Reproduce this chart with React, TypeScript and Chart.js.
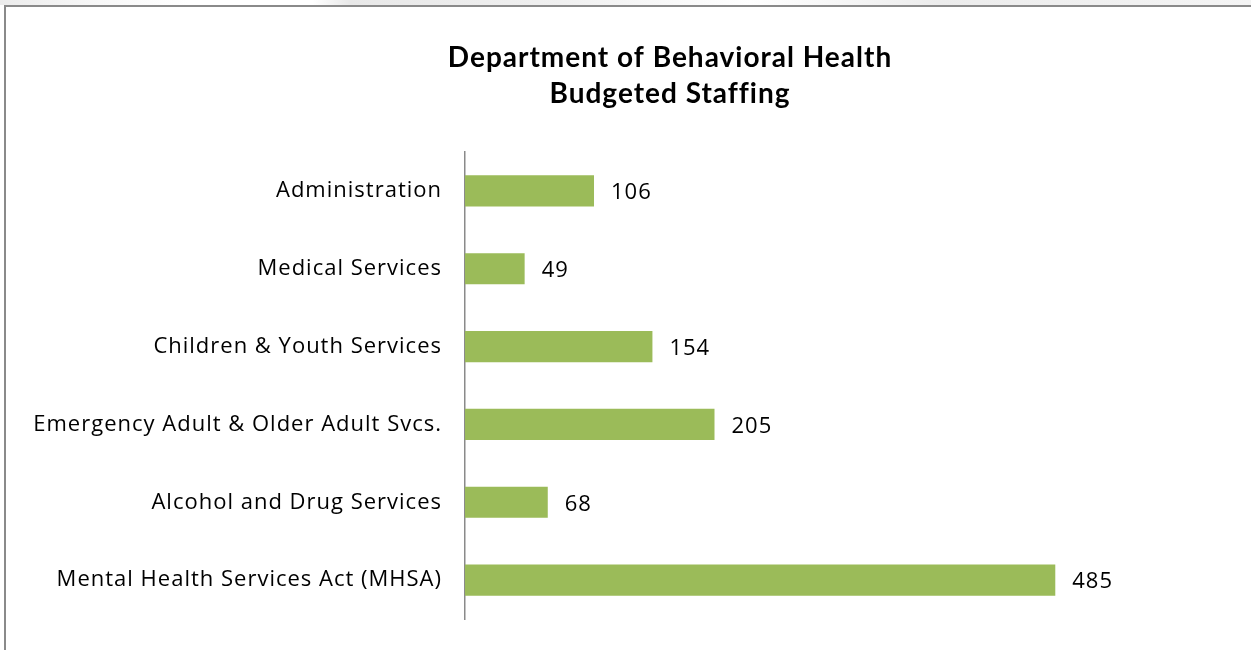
import React, { useEffect, useRef } from "react";
import { Chart, registerables } from "chart.js";

Chart.register(...registerables);

const categories = [
  "Administration",
  "Medical Services",
  "Children & Youth Services",
  "Emergency Adult & Older Adult Svcs.",
  "Alcohol and Drug Services",
  "Mental Health Services Act (MHSA)",
];
const staffing = [106, 49, 154, 205, 68, 485];
const titleLines = ["Department of Behavioral Health", "Budgeted Staffing"];
const xMax = 714;

const LABEL_FONT = "'Open Sans'";
const TITLE_FONT = "Lato";

const spacing = {
  id: "spacing",
  beforeDraw(chart: any) {
    chart.ctx.letterSpacing = "1px";
  },
  afterDraw(chart: any) {
    chart.ctx.letterSpacing = "0px";
  },
};

const valueLabels = {
  id: "valueLabels",
  afterDatasetsDraw(chart: any) {
    const ctx = chart.ctx;
    const meta = chart.getDatasetMeta(0);
    ctx.save();
    ctx.letterSpacing = "1px";
    ctx.font = `22px ${LABEL_FONT}`;
    ctx.fillStyle = "#000";
    ctx.textAlign = "left";
    ctx.textBaseline = "middle";
    meta.data.forEach((bar: any, i: number) => {
      ctx.fillText(String(staffing[i]), bar.x + 17, bar.y + 2);
    });
    ctx.restore();
  },
};

export default function App() {
  const ref = useRef<HTMLCanvasElement | null>(null);

  useEffect(() => {
    if (!ref.current) return;
    const chart = new Chart(ref.current, {
      type: "bar",
      data: {
        labels: categories,
        datasets: [
          {
            data: staffing,
            backgroundColor: "#9BBB59",
            borderWidth: 0,
            categoryPercentage: 1,
            barPercentage: 0.4,
          },
        ],
      },
      options: {
        indexAxis: "y",
        responsive: false,
        animation: false,
        layout: { padding: { left: 0, right: 0, top: 0, bottom: 31 } },
        plugins: {
          legend: { display: false },
          tooltip: { enabled: false },
          title: {
            display: true,
            text: titleLines,
            color: "#000",
            font: { family: TITLE_FONT, size: 28, weight: "bold", lineHeight: 1.285 },
            padding: { top: 33, bottom: 40 },
          },
        },
        scales: {
          x: {
            display: false,
            min: 0,
            max: xMax,
          },
          y: {
            grid: { display: false },
            border: { display: true, color: "#8a8a8a", width: 1.5 },
            ticks: {
              color: "#000",
              font: { family: "Open Sans", size: 22 },
              padding: 15,
            },
            afterFit(scale: any) {
              scale.width = 459;
            },
          },
        },
      },
      plugins: [spacing, valueLabels],
    });
    return () => chart.destroy();
  }, []);

  return (
    <>
      <div
        style={{
          position: "absolute",
          left: 0,
          top: 0,
          right: 0,
          height: 5,
          background:
            "linear-gradient(90deg, #ececec 0%, #f8f8f8 8%, #ffffff 15%, #ffffff 25%, #e8e8e8 28%, #f0f0f0 45%, #ffffff 60%, #ececec 75%, #f4f4f4 100%)",
        }}
      />
      <div
        style={{
          position: "absolute",
          left: 4,
          top: 5,
          right: 0,
          bottom: 0,
          borderTop: "2px solid #8a8a8a",
          borderLeft: "2px solid #8a8a8a",
          overflow: "hidden",
          background: "#fff",
        }}
      >
        <canvas ref={ref} width={1328} height={643} style={{ display: "block" }} />
      </div>
    </>
  );
}
